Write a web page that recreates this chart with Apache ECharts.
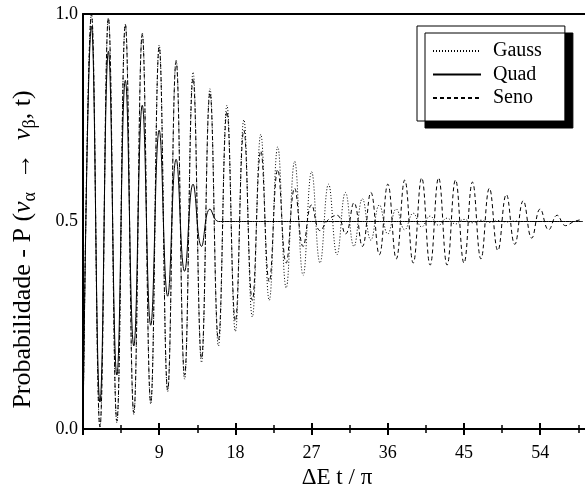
<!DOCTYPE html>
<html>
<head>
<meta charset="utf-8">
<script src="https://cdn.jsdelivr.net/npm/echarts@6/dist/echarts.min.js"></script>
<style>
html,body{margin:0;padding:0;background:#fff;}
#c{width:585px;height:489px;}
</style>
</head>
<body>
<div id="c"></div>
<script>
// x positions (ΔE t/π)
const xs = [0,1,2,3,4,5,6,7,8,9,10,11,12,13,14,15,16,17,18,19,20,21,22,23,24,25,26,27,28,29,
  30,31,32,33,34,35,36,37,38,39,40,41,42,43,44,45,46,47,48,49,50,51,52,53,54,55,56,57,58,59];
// Gauss (dotted)
const gauss = [0.00,1.00,0.005,0.99,0.015,0.975,0.035,0.955,0.06,0.925,
  0.09,0.89,0.12,0.86,0.16,0.82,0.20,0.78,0.235,0.745,
  0.27,0.71,0.31,0.68,0.34,0.645,0.37,0.62,0.40,0.59,
  0.42,0.57,0.44,0.555,0.455,0.54,0.47,0.53,0.48,0.52,
  0.487,0.513,0.491,0.508,0.494,0.505,0.497,0.503,0.498,0.502,
  0.499,0.501,0.5,0.5,0.5,0.5,0.5,0.5,0.5,0.5];
// Quad (solid)
const quad = [0.00,0.97,0.065,0.91,0.13,0.84,0.20,0.78,0.25,0.72,
  0.32,0.65,0.38,0.59,0.44,0.53,0.50,0.50,0.50,0.50,
  0.50,0.50,0.50,0.50,0.50,0.50,0.50,0.50,0.50,0.50,
  0.50,0.50,0.50,0.50,0.50,0.50,0.50,0.50,0.50,0.50,
  0.50,0.50,0.50,0.50,0.50,0.50,0.50,0.50,0.50,0.50,
  0.50,0.50,0.50,0.50,0.50,0.50,0.50,0.50,0.50,0.50];
// Seno (dashed)
const seno = [0.00,1.00,0.005,0.99,0.02,0.975,0.04,0.95,0.065,0.92,
  0.095,0.885,0.13,0.845,0.17,0.81,0.215,0.765,0.26,0.72,
  0.31,0.67,0.355,0.625,0.40,0.58,0.44,0.54,0.478,0.505,
  0.515,0.47,0.545,0.44,0.57,0.42,0.59,0.41,0.60,0.40,
  0.605,0.395,0.605,0.395,0.60,0.40,0.595,0.41,0.58,0.43,
  0.565,0.445,0.55,0.46,0.53,0.48,0.515,0.49,0.50,0.505];
const seriesNames = ['Gauss','Quad','Seno'];
const xTickLabels = [9,18,27,36,45,54];
const yTickLabels = ['0.0','0.5','1.0'];

const FONT = 'Liberation Serif';
const chart = echarts.init(document.getElementById('c'), null, {renderer:'canvas'});
const pairs = arr => xs.map((x,i)=>[x, arr[i]]);

const baseX = {
  type:'value', min:0, max:60, gridIndex:0, position:'bottom',
  splitLine:{show:false}, axisLabel:{show:false}, axisLine:{show:false}
};

chart.setOption({
  animation:false,
  backgroundColor:'#fff',
  grid:{left:83, top:14, width:508, height:415, containLabel:false, outerBoundsMode:'none'},
  legend:{
    data:seriesNames,
    orient:'vertical',
    left:417, top:26,
    padding:[15,23,13,15],
    itemWidth:48, itemHeight:14, itemGap:3.5,
    backgroundColor:'#fff', borderColor:'#000', borderWidth:1,
    shadowColor:'#000', shadowBlur:0, shadowOffsetX:8, shadowOffsetY:7,
    itemStyle:{color:'rgba(0,0,0,0)', borderWidth:0, opacity:0},
    textStyle:{fontFamily:FONT, fontSize:20, lineHeight:20, color:'#000', padding:[0,0,0,7]},
    inactiveColor:'#000'
  },
  xAxis:[
    Object.assign({}, baseX, {
      axisLine:{show:true, onZero:false, lineStyle:{color:'#000', width:2}},
      interval:9,
      axisTick:{show:true, inside:false, length:6, lineStyle:{color:'#000', width:2}},
      axisLabel:{show:true, margin:15, fontFamily:FONT, fontSize:18, color:'#000',
        formatter: v => xTickLabels.indexOf(v) >= 0 ? String(v) : ''},
      name:'ΔE t / π', nameLocation:'middle', nameGap:26,
      nameTextStyle:{fontFamily:FONT, fontSize:23, color:'#000'}
    }),
    Object.assign({}, baseX, {interval:9,
      axisTick:{show:true, inside:true, length:6, lineStyle:{color:'#000', width:2}}}),
    Object.assign({}, baseX, {interval:4.5,
      axisTick:{show:true, inside:false, length:4, lineStyle:{color:'#000', width:1.5}}}),
    Object.assign({}, baseX, {interval:4.5,
      axisTick:{show:true, inside:true, length:4, lineStyle:{color:'#000', width:1.5}}}),
    Object.assign({}, baseX, {position:'top', axisTick:{show:false},
      axisLine:{show:true, onZero:false, lineStyle:{color:'#000', width:2}}})
  ],
  yAxis:{
    type:'value', min:0, max:1, interval:0.5,
    axisLine:{show:true, onZero:false, lineStyle:{color:'#000', width:2}},
    axisTick:{show:false}, splitLine:{show:false},
    axisLabel:{margin:5, fontFamily:FONT, fontSize:18, color:'#000',
      formatter: v => yTickLabels[Math.round(v*2)]},
    name:'{a|Probabilidade - P (}{i|ν}{s|α}{a|  →  }{i|ν}{s|β}{a|, t)}',
    nameLocation:'middle', nameGap:44, nameRotate:90,
    nameTextStyle:{fontFamily:FONT, fontSize:26, color:'#000', padding:[0,56,0,0],
      rich:{
        a:{fontFamily:FONT, fontSize:26, color:'#000'},
        i:{fontFamily:FONT, fontSize:26, fontStyle:'italic', color:'#000'},
        s:{fontFamily:FONT, fontSize:18, color:'#000', padding:[13,0,0,0]}
      }}
  },
  series:[
    {name:'Gauss', type:'line', data:pairs(gauss), smooth:0.45, symbol:'none',
      lineStyle:{color:'#000', width:1, type:[1,2]}, itemStyle:{color:'#000'}, z:3},
    {name:'Quad', type:'line', data:pairs(quad), smooth:0.45, symbol:'none',
      lineStyle:{color:'#000', width:1, type:'solid'}, itemStyle:{color:'#000'}, z:4},
    {name:'Seno', type:'line', data:pairs(seno), smooth:0.45, symbol:'none',
      lineStyle:{color:'#000', width:1, type:[4,3]}, itemStyle:{color:'#000'}, z:2}
  ]
});
</script>
</body>
</html>
